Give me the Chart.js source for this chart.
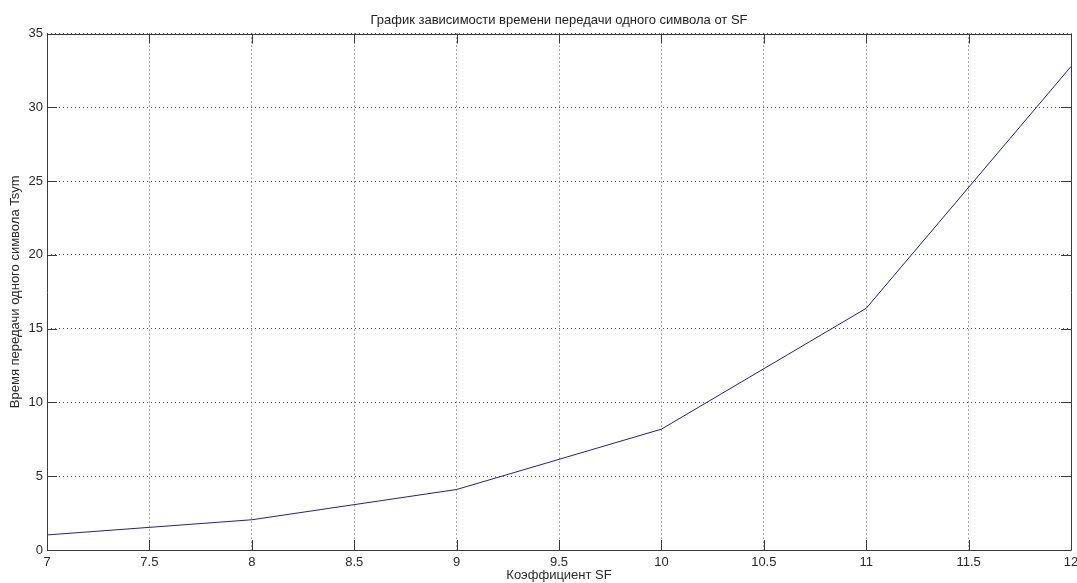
<!DOCTYPE html>
<html>
<head>
<meta charset="utf-8">
<script src="https://cdn.jsdelivr.net/npm/chart.js@4.4.0/dist/chart.umd.min.js"></script>
<style>
    html, body { margin: 0; padding: 0; background: #fff; }
    #wrap { width: 1077px; height: 583px; }
</style>
</head>
<body>
<div id="wrap"><canvas id="tsymChart"></canvas></div>
<script>
// SF values and symbol time (ms)
const sfValues = [7, 8, 9, 10, 11, 12];
const tsymValues = [1.02, 2.05, 4.1, 8.19, 16.38, 32.77];
const xTicks = [7, 7.5, 8, 8.5, 9, 9.5, 10, 10.5, 11, 11.5, 12];
const yTicks = [0, 5, 10, 15, 20, 25, 30, 35];

const chartTitle = 'График зависимости времени передачи одного символа от SF';
const xTitle = 'Коэффициент SF';
const yTitle = 'Время передачи одного символа Tsym';

Chart.defaults.font.family = '"Liberation Sans", Arial, sans-serif';
Chart.defaults.font.size = 13;
Chart.defaults.color = '#2a2a2a';

// matlab style box with inward ticks on all four sides
const boxPlugin = {
    id: 'boxPlugin',
    afterDraw(chart) {
        const ctx = chart.ctx;
        const a = chart.chartArea;
        const xs = chart.scales.x;
        const ys = chart.scales.y;
        const len = 10;
        ctx.save();
        ctx.strokeStyle = '#3a3a3a';
        ctx.lineWidth = 1;
        ctx.beginPath();
        ctx.rect(Math.round(a.left) + 0.5, Math.round(a.top) + 0.5,
            Math.round(a.right - a.left), Math.round(a.bottom - a.top));
        xTicks.forEach(v => {
            const px = Math.round(xs.getPixelForValue(v)) + 0.5;
            ctx.moveTo(px, a.bottom);
            ctx.lineTo(px, a.bottom - len);
            ctx.moveTo(px, a.top);
            ctx.lineTo(px, a.top + len);
        });
        yTicks.forEach(v => {
            const py = Math.round(ys.getPixelForValue(v)) + 0.5;
            ctx.moveTo(a.left, py);
            ctx.lineTo(a.left + len, py);
            ctx.moveTo(a.right, py);
            ctx.lineTo(a.right - len, py);
        });
        ctx.stroke();
        ctx.restore();
    }
};

const ctx = document.getElementById('tsymChart');
const tsymChart = new Chart(ctx, {
    type: 'line',
    data: {
        datasets: [{
            data: sfValues.map((sf, i) => ({x: sf, y: tsymValues[i]})),
            borderColor: '#23237a',
            borderWidth: 1,
            pointRadius: 0,
            tension: 0,
            fill: false
        }]
    },
    options: {
        responsive: true,
        maintainAspectRatio: false,
        animation: false,
        layout: {padding: {left: 0, right: 6, top: 0, bottom: 0}},
        plugins: {
            legend: {display: false},
            tooltip: {enabled: false},
            title: {
                display: true,
                text: chartTitle,
                fullSize: false,
                color: '#222',
                font: {size: 13, weight: 'normal'},
                padding: {top: 13, bottom: 5}
            }
        },
        scales: {
            x: {
                type: 'linear',
                min: 7,
                max: 12,
                afterBuildTicks: (scale) => { scale.ticks = xTicks.map(v => ({value: v})); },
                afterFit: (scale) => {
                    scale.height = 33;
                    scale.paddingLeft = 0;
                    scale.paddingRight = 0;
                },
                ticks: {
                    padding: 5,
                    maxRotation: 0,
                    autoSkip: false,
                    callback: (v) => String(v)
                },
                grid: {
                    color: '#555',
                    lineWidth: 1,
                    drawTicks: false
                },
                border: {display: false, dash: [1, 3]},
                title: {display: true, text: xTitle, padding: {top: 0, bottom: 0}}
            },
            y: {
                type: 'linear',
                min: 0,
                max: 35,
                afterBuildTicks: (scale) => { scale.ticks = yTicks.map(v => ({value: v})); },
                afterFit: (scale) => { scale.width = 47; },
                ticks: {padding: 4, callback: (v) => String(v)},
                grid: {
                    color: '#555',
                    lineWidth: 1,
                    drawTicks: false
                },
                border: {display: false, dash: [1, 3]},
                title: {display: true, text: yTitle, padding: {top: 8, bottom: 0}}
            }
        }
    },
    plugins: [boxPlugin]
});
</script>
</body>
</html>
